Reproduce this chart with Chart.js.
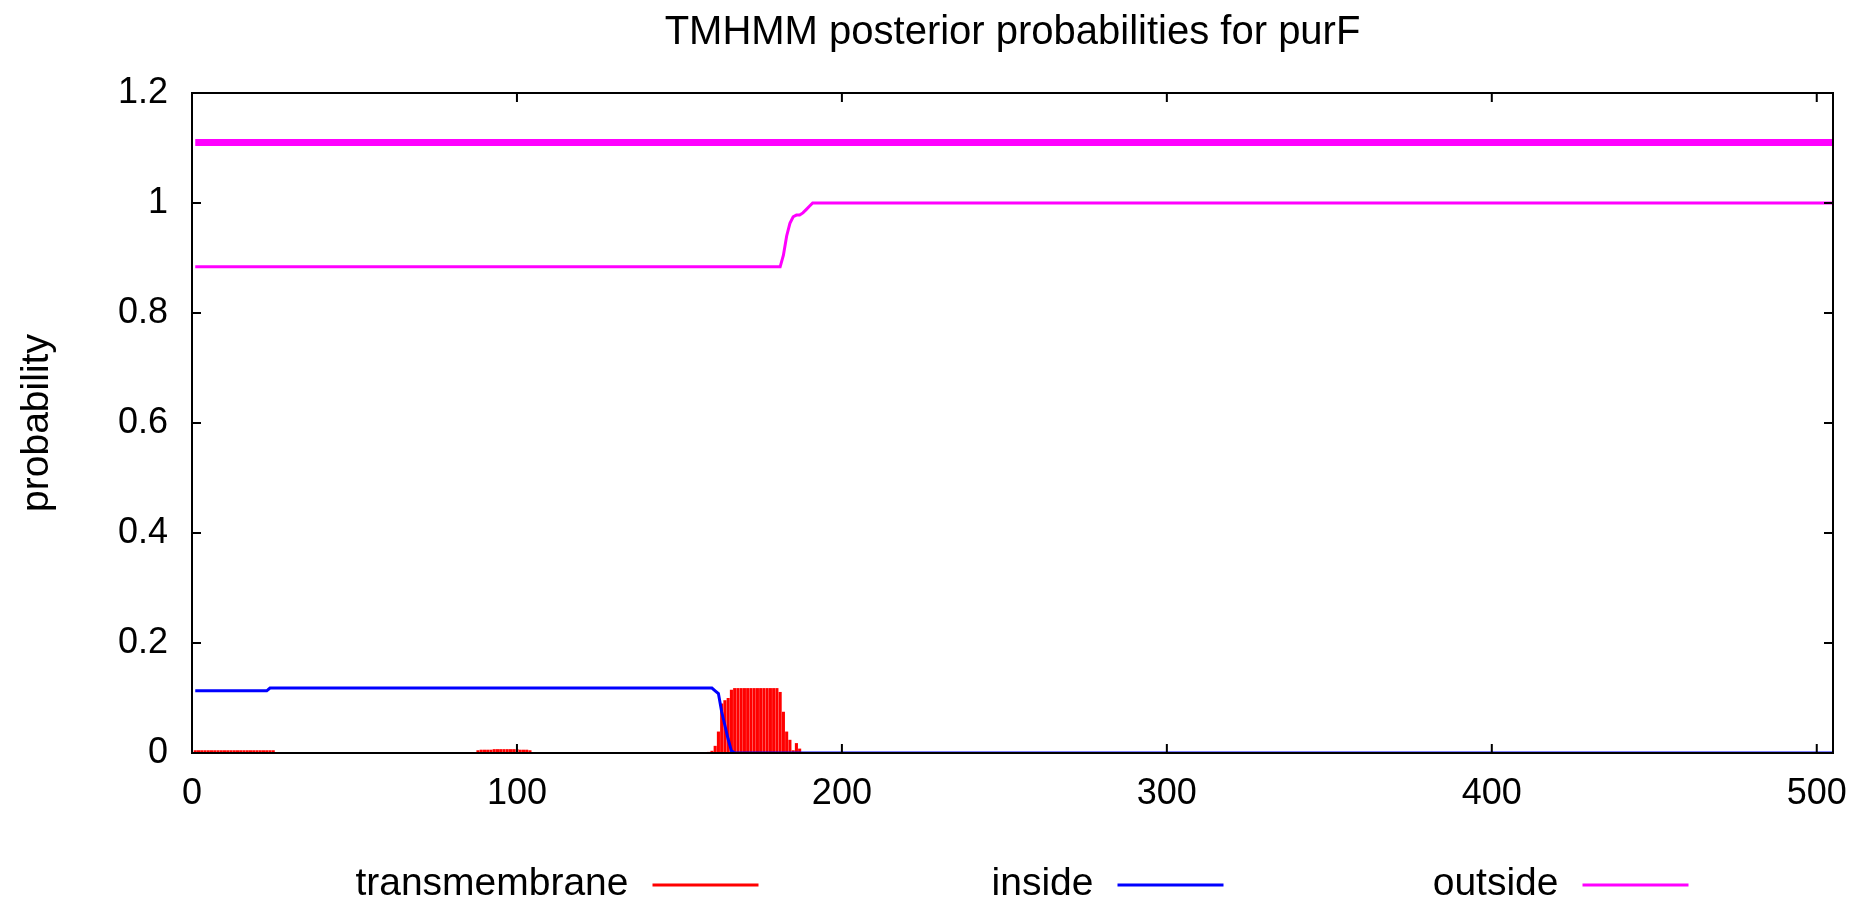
<!DOCTYPE html>
<html>
<head>
<meta charset="utf-8">
<title>TMHMM posterior probabilities for purF</title>
<script src="https://cdn.jsdelivr.net/npm/chart.js@4.4.1/dist/chart.umd.min.js"></script>
<style>
  html, body { margin: 0; padding: 0; background: #fff; }
  #wrap { width: 1858px; height: 904px; position: relative; }
</style>
</head>
<body>
<div id="wrap"><canvas id="tmhmm-chart"></canvas></div>
<script>
// ── Data ────────────────────────────────────────────────────────────────────
const SEQ_LENGTH = 505;

// transmembrane posterior, drawn as impulses
const tmResidue = [
  1, 2, 3, 4, 5, 6, 7, 8, 9, 10, 11, 12, 13, 14, 15, 16, 17, 18, 19, 20, 21, 22, 23, 24, 25,
  88, 89, 90, 91, 92, 93, 94, 95, 96, 97, 98, 99, 100, 101, 102, 103, 104,
  159, 160, 161, 162, 163, 164, 165, 166, 167, 168, 169, 170, 171, 172, 173,
  174, 175, 176, 177, 178, 179, 180, 181, 182, 183, 184, 185, 186, 187
];
const tmProb = [
  0.005, 0.005, 0.005, 0.005, 0.005, 0.005, 0.005, 0.005, 0.005, 0.005, 0.005, 0.005, 0.005,
  0.005, 0.005, 0.005, 0.005, 0.005, 0.005, 0.005, 0.005, 0.005, 0.005, 0.005, 0.005,
  0.005, 0.006, 0.006, 0.006, 0.006, 0.007, 0.007, 0.007, 0.007, 0.007, 0.007, 0.007, 0.007,
  0.006, 0.006, 0.006, 0.005,
  0.002, 0.004, 0.013, 0.039, 0.09, 0.096, 0.1, 0.115, 0.118, 0.118, 0.118, 0.118, 0.118,
  0.118, 0.118, 0.118, 0.118, 0.118, 0.118, 0.118, 0.118, 0.118, 0.111, 0.075, 0.039,
  0.024, 0.005, 0.018, 0.008
];

// inside posterior (break points of the line)
const insideResidue = [1, 23, 24, 160, 161, 162, 163, 164, 165, 166, 167, 505];
const insideProb = [0.113, 0.113, 0.118, 0.118, 0.113, 0.108, 0.075, 0.05, 0.025, 0.004, 0, 0];

// outside posterior (break points of the line)
const outsideResidue = [1, 181, 182, 183, 184, 185, 186, 187, 188, 189, 190, 191, 505];
const outsideProb = [0.884, 0.884, 0.905, 0.94, 0.963, 0.975, 0.978, 0.978, 0.982, 0.988, 0.994, 1, 1];

// predicted topology bar (whole sequence outside)
const topoResidue = [1, 505];
const topoLevel = [1.11, 1.11];

// axis ticks
const xTicks = [0, 100, 200, 300, 400, 500];
const yTicks = [0, 0.2, 0.4, 0.6, 0.8, 1, 1.2];

const FONT = 'Liberation Sans';
const RED = '#ff0000';
const BLUE = '#0000ff';
const MAGENTA = '#ff00ff';

const toPoints = (xs, ys) => xs.map((x, i) => ({ x, y: ys[i] }));

// ── Plugins ─────────────────────────────────────────────────────────────────
// gnuplot style border with inward ticks on all four sides
const framePlugin = {
  id: 'frame',
  afterDatasetsDraw(chart) {
    const { ctx, chartArea: a, scales: { x, y } } = chart;
    const tick = 9;
    ctx.save();
    ctx.strokeStyle = '#000';
    ctx.lineWidth = 2;
    ctx.strokeRect(a.left, a.top, a.right - a.left, a.bottom - a.top);
    ctx.beginPath();
    x.ticks.forEach(t => {
      const px = x.getPixelForValue(t.value);
      ctx.moveTo(px, a.bottom); ctx.lineTo(px, a.bottom - tick);
      ctx.moveTo(px, a.top); ctx.lineTo(px, a.top + tick);
    });
    y.ticks.forEach(t => {
      const py = y.getPixelForValue(t.value);
      ctx.moveTo(a.left, py); ctx.lineTo(a.left + tick, py);
      ctx.moveTo(a.right, py); ctx.lineTo(a.right - tick, py);
    });
    ctx.stroke();
    ctx.restore();
  }
};

// key under the plot: text first, then the line sample
const keyPlugin = {
  id: 'key',
  afterDraw(chart) {
    const { ctx, chartArea: a } = chart;
    const items = chart.data.datasets.filter(d => d.label);
    const center = (a.left + a.right) / 2;
    const colWidth = 465;
    const sampleLen = 106;
    ctx.save();
    ctx.font = `39px "${FONT}"`;
    ctx.fillStyle = '#000';
    ctx.textAlign = 'right';
    ctx.textBaseline = 'middle';
    items.forEach((d, i) => {
      const start = center - 360 + i * colWidth;
      ctx.fillText(d.label, start - 24, 884);
      ctx.strokeStyle = d.borderColor;
      ctx.lineWidth = 3;
      ctx.beginPath();
      ctx.moveTo(start, 885);
      ctx.lineTo(start + sampleLen, 885);
      ctx.stroke();
    });
    ctx.restore();
  }
};

// ── Chart ───────────────────────────────────────────────────────────────────
const ctx = document.getElementById('tmhmm-chart').getContext('2d');

new Chart(ctx, {
  type: 'line',
  data: {
    datasets: [
      {
        type: 'bar',
        label: 'transmembrane',
        data: toPoints(tmResidue, tmProb),
        backgroundColor: RED,
        borderColor: RED,
        borderWidth: 0,
        barPercentage: 1,
        categoryPercentage: 0.95,
        order: 3,
      },
      {
        label: 'inside',
        data: toPoints(insideResidue, insideProb),
        borderColor: BLUE,
        borderWidth: 3,
        pointRadius: 0,
        tension: 0,
        order: 1,
      },
      {
        label: 'outside',
        data: toPoints(outsideResidue, outsideProb),
        borderColor: MAGENTA,
        borderWidth: 3,
        pointRadius: 0,
        tension: 0,
        order: 2,
      },
      {
        label: '',
        data: toPoints(topoResidue, topoLevel),
        borderColor: MAGENTA,
        borderWidth: 7,
        pointRadius: 0,
        borderCapStyle: 'butt',
        order: 2,
      },
    ],
  },
  options: {
    responsive: true,
    maintainAspectRatio: false,
    animation: false,
    events: [],
    layout: { padding: { left: 0, right: 25, top: 0, bottom: 91 } },
    plugins: {
      legend: { display: false },
      tooltip: { enabled: false },
      title: {
        display: true,
        text: 'TMHMM posterior probabilities for purF',
        color: '#000',
        fullSize: false,
        font: { family: FONT, size: 40, weight: 'normal' },
        padding: { top: 9, bottom: 36 },
      },
    },
    scales: {
      x: {
        type: 'linear',
        min: 0,
        max: SEQ_LENGTH,
        offset: false,
        grid: { display: false, drawTicks: false },
        border: { display: false },
        afterBuildTicks: s => { s.ticks = xTicks.map(value => ({ value })); },
        ticks: {
          color: '#000',
          padding: 19,
          maxRotation: 0,
          autoSkip: false,
          callback: v => String(v),
          font: { family: FONT, size: 36 },
        },
        afterFit: s => {
          s.height = 60;
          s.paddingLeft = 0;
          s.paddingRight = 0;
        },
      },
      y: {
        min: 0,
        max: 1.2,
        grid: { display: false, drawTicks: false },
        border: { display: false },
        afterBuildTicks: s => { s.ticks = yTicks.map(value => ({ value })); },
        ticks: {
          color: '#000',
          padding: 24,
          autoSkip: false,
          callback: v => String(v),
          font: { family: FONT, size: 36 },
        },
        title: {
          display: true,
          text: 'probability',
          color: '#000',
          font: { family: FONT, size: 39 },
          padding: { top: 14, bottom: 0 },
        },
        afterFit: s => { s.width = 192; },
      },
    },
  },
  plugins: [framePlugin, keyPlugin],
});
</script>
</body>
</html>
